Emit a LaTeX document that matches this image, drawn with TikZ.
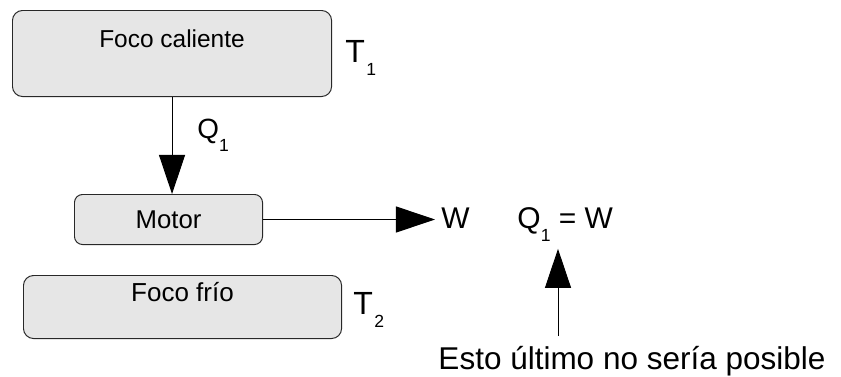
\documentclass[tikz,border=0pt]{standalone}
\usepackage{fontspec}
\setmainfont{Liberation Sans}
\usetikzlibrary{arrows.meta,positioning}

\newcommand{\lowsub}[1]{\raisebox{-9.5pt}{\fontsize{12.5}{14}\selectfont #1}}

\begin{document}
\begin{tikzpicture}[x=0.025cm,y=-0.025cm,line width=0.7pt,
    >={Triangle[length=0.975cm,width=0.65cm]}]
  \tikzstyle{foco}=[draw={rgb,255:red,40;green,40;blue,40},
    fill={rgb,255:red,230;green,230;blue,230},inner sep=0pt]
  \tikzstyle{label}=[inner sep=0pt,anchor=base west]

  \useasboundingbox (0,0) rectangle (841,376);

  % focos y motor
  \node[foco,rounded corners=0.25cm,anchor=north west,minimum width=7.975cm,
        text height=0.925cm,text depth=1.225cm,font=\fontsize{17.4}{20}\selectfont]
        (cal) at (12,10) {Foco caliente};
  \node[foco,rounded corners=0.2cm,anchor=north west,minimum width=4.7cm,
        text height=0.85cm,text depth=0.4cm,font=\fontsize{18.3}{21}\selectfont]
        (mot) at (74,194) {Motor};
  \node[foco,rounded corners=0.25cm,anchor=north west,minimum width=7.95cm,
        text height=0.65cm,text depth=0.925cm,font=\fontsize{18.5}{21}\selectfont]
        (fri) at (23,275) {Foco frío};

  % etiquetas
  \node[label,font=\fontsize{22.8}{26}\selectfont] (t1) at (345,62) {T\hspace{1pt}\lowsub{1}};
  \node[label,font=\fontsize{22.8}{26}\selectfont] (t2) at (353,314) {T\hspace{1pt}\lowsub{2}};
  \node[label,font=\fontsize{19.8}{23}\selectfont] (q1) at (197,138) {Q\lowsub{1}};
  \node[label,font=\fontsize{21.3}{25}\selectfont] (w) at (441,228) {W};
  \node[label,font=\fontsize{21.3}{25}\selectfont] (eq) at (517,228) {Q\lowsub{1} = W};
  \node[label,font=\fontsize{22.4}{26}\selectfont] (esto) at (438,369) {Esto último no sería posible};

  \coordinate (foot) at (558,336);

  \path[->]
  (cal.south) edge (cal.south |- mot.north)
  (mot.east)  edge [shorten >=0.15cm] (mot.east -| w.west)
  (foot)      edge [shorten >=0.175cm] (foot |- eq.south);
\end{tikzpicture}
\end{document}
